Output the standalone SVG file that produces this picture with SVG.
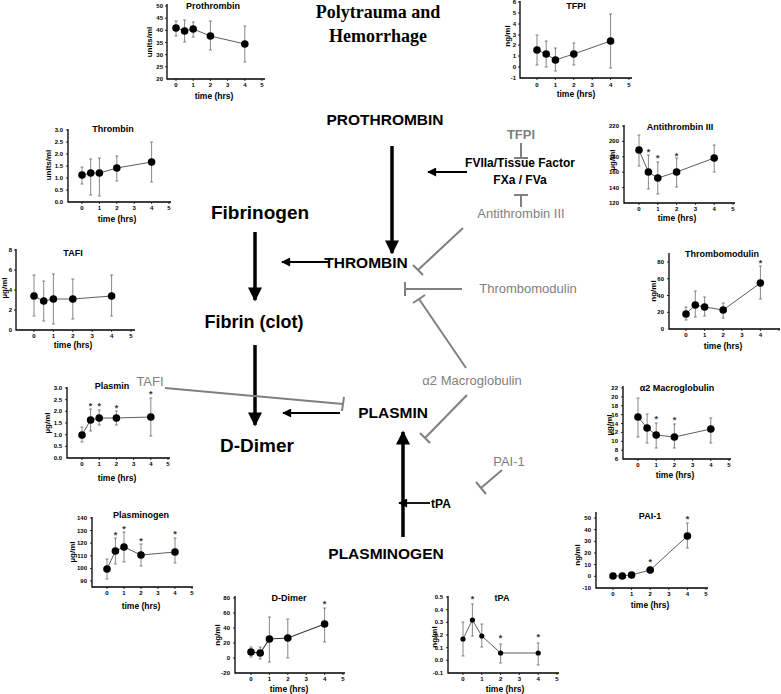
<svg xmlns="http://www.w3.org/2000/svg" width="781" height="694" viewBox="0 0 781 694">
<style>
text{font-family:"Liberation Sans",Arial,sans-serif;}
.ax{fill:none;stroke:#000;stroke-width:1.3}
.tk{fill:none;stroke:#000;stroke-width:0.8}
.tl{font-size:6px;font-weight:bold;fill:#000}
.tle{font-size:6px;font-weight:bold;fill:#000;text-anchor:end}
.tt{font-size:9px;font-weight:bold;text-anchor:middle}
.xl{font-size:8.5px;font-weight:bold;text-anchor:middle}
.yl{font-size:8px;font-weight:bold;text-anchor:middle}
.ln{fill:none;stroke:#333;stroke-width:0.8}
.eb{fill:none;stroke:#555;stroke-width:0.7}
.st{font-size:9px;font-weight:bold;text-anchor:middle;fill:#333}
.big{font-weight:bold;text-anchor:middle;fill:#000}
.gr{font-size:13px;text-anchor:middle;fill:#808080}
.thin{fill:none;stroke:#000;stroke-width:1.8}
.thick{fill:none;stroke:#000;stroke-width:3.5}
.inh{fill:none;stroke:#808080;stroke-width:2}
circle{fill:#000}
</style>
<defs>
<marker id="ah" viewBox="0 0 10 10" refX="9" refY="5" markerWidth="10" markerHeight="9" markerUnits="userSpaceOnUse" orient="auto"><path d="M0,0L10,5L0,10z" fill="#000"/></marker>
<marker id="ahb" viewBox="0 0 10 10" refX="9" refY="5" markerWidth="15" markerHeight="14" markerUnits="userSpaceOnUse" orient="auto"><path d="M0,0L10,5L0,10z" fill="#000"/></marker>
</defs>

<g id="title">
<text x="378" y="18" class="big" style="font-family:'Liberation Serif',serif;font-size:18px">Polytrauma and</text>
<text x="378" y="42" class="big" style="font-family:'Liberation Serif',serif;font-size:18px">Hemorrhage</text>
</g>

<g id="connectors">
<line class="thick" x1="392" y1="146" x2="392" y2="253" marker-end="url(#ahb)"/>
<line class="thick" x1="255" y1="232" x2="255" y2="300" marker-end="url(#ahb)"/>
<line class="thick" x1="255" y1="345" x2="255" y2="425" marker-end="url(#ahb)"/>
<line class="thick" x1="403" y1="537" x2="403" y2="432" marker-end="url(#ahb)"/>
<line class="thin" x1="467" y1="172" x2="428" y2="172" marker-end="url(#ah)"/>
<line class="thin" x1="330" y1="262" x2="282" y2="262" marker-end="url(#ah)"/>
<line class="thin" x1="340" y1="413" x2="283" y2="413" marker-end="url(#ah)"/>
<line class="thin" x1="430" y1="503" x2="399" y2="503" marker-end="url(#ah)"/>
<path class="inh" d="M521,143V158M514,158H528"/>
<path class="inh" d="M521,207V195M514,195H528"/>
<path class="inh" d="M463,228L418,270M413,265L423,275"/>
<path class="inh" d="M462,289H405M405,282V296"/>
<path class="inh" d="M466,368L419,299M413,303L425,295"/>
<path class="inh" d="M467,395L425,438M420,433L430,443"/>
<path class="inh" d="M165,388L343,404M344,397L342,411"/>
<path class="inh" d="M502,470L481,488M476,482L486,494"/>
</g>

<g id="n-prothrombin"><text x="385" y="125" class="big" font-size="15.5">PROTHROMBIN</text></g>
<g id="n-tfpi"><text x="521" y="139" class="gr" font-weight="bold" font-size="12">TFPI</text></g>
<g id="n-fviia"><text x="520" y="167" class="big" font-size="12">FVIIa/Tissue Factor</text><text x="520" y="184" class="big" font-size="12">FXa / FVa</text></g>
<g id="n-at3"><text x="521" y="218" class="gr">Antithrombin III</text></g>
<g id="n-fibrinogen"><text x="260" y="219" class="big" font-size="19">Fibrinogen</text></g>
<g id="n-thrombin"><text x="366" y="268" class="big" font-size="15.5">THROMBIN</text></g>
<g id="n-thrombomodulin"><text x="528" y="293" class="gr">Thrombomodulin</text></g>
<g id="n-fibrin"><text x="254" y="328" class="big" font-size="18">Fibrin (clot)</text></g>
<g id="n-a2m"><text x="472" y="385" class="gr">α2 Macroglobulin</text></g>
<g id="n-tafi"><text x="150" y="386" class="gr">TAFI</text></g>
<g id="n-plasmin"><text x="393" y="418" class="big" font-size="15.5">PLASMIN</text></g>
<g id="n-ddimer"><text x="257" y="452" class="big" font-size="19">D-Dimer</text></g>
<g id="n-pai1"><text x="509" y="466" class="gr">PAI-1</text></g>
<g id="n-tpa"><text x="441" y="508" class="big" font-size="12">tPA</text></g>
<g id="n-plasminogen"><text x="386" y="559" class="big" font-size="15.5">PLASMINOGEN</text></g>

<!-- Chart: Prothrombin -->
<g id="c-prothrombin">
<path class="ax" d="M167,4V79H265"/>
<path class="tk" d="M165,6H167M165,18.2H167M165,30.3H167M165,42.5H167M165,54.7H167M165,66.8H167M176,79v2M193.2,79v2M210.4,79v2M227.6,79v2M244.8,79v2M262,79v2"/>
<g class="tle"><text x="163" y="8">50</text><text x="163" y="20.2">45</text><text x="163" y="32.3">40</text><text x="163" y="44.5">35</text><text x="163" y="56.7">30</text><text x="163" y="68.8">25</text><text x="163" y="81">20</text></g>
<g class="tl" text-anchor="middle"><text x="176" y="87">0</text><text x="193.2" y="87">1</text><text x="210.4" y="87">2</text><text x="227.6" y="87">3</text><text x="244.8" y="87">4</text><text x="262" y="87">5</text></g>
<text x="213" y="9" class="tt">Prothrombin</text>
<text x="214" y="99" class="xl">time (hrs)</text>
<text class="yl" transform="translate(152,42) rotate(-90)">units/ml</text>
<path class="eb" d="M176,21V36M174.5,21h3M174.5,36h3M184.6,20V42M183.1,20h3M183.1,42h3M193.2,22V37M191.7,22h3M191.7,37h3M210.4,21V50M208.9,21h3M208.9,50h3M244.8,26V62M243.3,26h3M243.3,62h3"/>
<polyline class="ln" points="176,28 184.6,31 193.2,29 210.4,36 244.8,44"/>
<g><circle cx="176" cy="28" r="3.8"/><circle cx="184.6" cy="31" r="3.8"/><circle cx="193.2" cy="29" r="3.8"/><circle cx="210.4" cy="36" r="3.8"/><circle cx="244.8" cy="44" r="3.8"/></g>
</g>

<!-- Chart: TFPI -->
<g id="c-tfpi">
<path class="ax" d="M520,1V78H632"/>
<path class="tk" d="M518,2H520M518,13H520M518,24H520M518,35H520M518,45H520M518,56H520M518,67H520M537,78v2M555.4,78v2M573.8,78v2M592.2,78v2M610.6,78v2M629,78v2"/>
<g class="tle"><text x="516" y="4">6</text><text x="516" y="15">5</text><text x="516" y="26">4</text><text x="516" y="37">3</text><text x="516" y="47">2</text><text x="516" y="58">1</text><text x="516" y="69">0</text><text x="516" y="80">-1</text></g>
<g class="tl" text-anchor="middle"><text x="537" y="87">0</text><text x="555.4" y="87">1</text><text x="573.8" y="87">2</text><text x="592.2" y="87">3</text><text x="610.6" y="87">4</text><text x="629" y="87">5</text></g>
<text x="576" y="9" class="tt">TFPI</text>
<text x="576" y="97" class="xl">time (hrs)</text>
<text class="yl" transform="translate(510,36) rotate(-90)">ng/ml</text>
<path class="eb" d="M537,35V65M535.5,35h3M535.5,65h3M546.2,41V67M544.7,41h3M544.7,67h3M555.4,48V71M553.9,48h3M553.9,71h3M573.8,43V65M572.3,43h3M572.3,65h3M610.6,14V68M609.1,14h3M609.1,68h3"/>
<polyline class="ln" points="537,50 546.2,54 555.4,60 573.8,54 610.6,41"/>
<g><circle cx="537" cy="50" r="3.8"/><circle cx="546.2" cy="54" r="3.8"/><circle cx="555.4" cy="60" r="3.8"/><circle cx="573.8" cy="54" r="3.8"/><circle cx="610.6" cy="41" r="3.8"/></g>
</g>

<!-- Chart: Thrombin -->
<g id="c-thrombin">
<path class="ax" d="M68,129V202H171"/>
<path class="tk" d="M66,130H68M66,142H68M66,154H68M66,166H68M66,178H68M66,190H68M82,202v2M99.4,202v2M116.8,202v2M134.2,202v2M151.6,202v2M169,202v2"/>
<g class="tle"><text x="63" y="132">3.0</text><text x="63" y="144">2.5</text><text x="63" y="156">2.0</text><text x="63" y="168">1.5</text><text x="63" y="180">1.0</text><text x="63" y="192">0.5</text><text x="63" y="204">0.0</text></g>
<g class="tl" text-anchor="middle"><text x="82" y="210">0</text><text x="99.4" y="210">1</text><text x="116.8" y="210">2</text><text x="134.2" y="210">3</text><text x="151.6" y="210">4</text><text x="169" y="210">5</text></g>
<text x="113" y="132" class="tt">Thrombin</text>
<text x="117" y="222" class="xl">time (hrs)</text>
<text class="yl" transform="translate(51,165) rotate(-90)">units/ml</text>
<path class="eb" d="M82,167V184M80.5,167h3M80.5,184h3M90.7,159V195M89.2,159h3M89.2,195h3M99.4,158V196M97.9,158h3M97.9,196h3M116.8,156V181M115.3,156h3M115.3,181h3M151.6,142V182M150.1,142h3M150.1,182h3"/>
<polyline class="ln" points="82,175 90.7,173 99.4,173 116.8,168 151.6,162"/>
<g><circle cx="82" cy="175" r="3.8"/><circle cx="90.7" cy="173" r="3.8"/><circle cx="99.4" cy="173" r="3.8"/><circle cx="116.8" cy="168" r="3.8"/><circle cx="151.6" cy="162" r="3.8"/></g>
</g>

<!-- Chart: Antithrombin III -->
<g id="c-at3">
<path class="ax" d="M624,125V203H735"/>
<path class="tk" d="M622,126H624M622,141.4H624M622,156.8H624M622,172.2H624M622,187.6H624M639,203v2M657.8,203v2M676.6,203v2M695.4,203v2M714.2,203v2M733,203v2"/>
<g class="tle"><text x="619" y="128">220</text><text x="619" y="143.4">200</text><text x="619" y="158.8">180</text><text x="619" y="174.2">160</text><text x="619" y="189.6">140</text><text x="619" y="205">120</text></g>
<g class="tl" text-anchor="middle"><text x="639" y="211">0</text><text x="657.8" y="211">1</text><text x="676.6" y="211">2</text><text x="695.4" y="211">3</text><text x="714.2" y="211">4</text><text x="733" y="211">5</text></g>
<text x="680" y="130" class="tt">Antithrombin III</text>
<text x="677" y="221" class="xl">time (hrs)</text>
<text class="yl" transform="translate(615,160) rotate(-90)">µg/ml</text>
<path class="eb" d="M639,135V166M637.5,135h3M637.5,166h3M648.4,155V189M646.9,155h3M646.9,189h3M657.8,162V194M656.3,162h3M656.3,194h3M676.6,158V187M675.1,158h3M675.1,187h3M714.2,145V172M712.7,145h3M712.7,172h3"/>
<polyline class="ln" points="639,150 648.4,172 657.8,178 676.6,172 714.2,158"/>
<g><circle cx="639" cy="150" r="3.8"/><circle cx="648.4" cy="172" r="3.8"/><circle cx="657.8" cy="178" r="3.8"/><circle cx="676.6" cy="172" r="3.8"/><circle cx="714.2" cy="158" r="3.8"/></g>
<g class="st"><text x="648.4" y="155">*</text><text x="657.8" y="161">*</text><text x="676.6" y="159">*</text></g>
</g>

<!-- Chart: TAFI -->
<g id="c-tafi">
<path class="ax" d="M16,249V330H135"/>
<path class="tk" d="M14,250H16M14,270H16M14,290H16M14,310H16M34,330v2M53.4,330v2M72.8,330v2M92.2,330v2M111.6,330v2M131,330v2"/>
<g class="tle"><text x="12" y="252">8</text><text x="12" y="272">6</text><text x="12" y="292">4</text><text x="12" y="312">2</text><text x="12" y="332">0</text></g>
<g class="tl" text-anchor="middle"><text x="34" y="338">0</text><text x="53.4" y="338">1</text><text x="72.8" y="338">2</text><text x="92.2" y="338">3</text><text x="111.6" y="338">4</text><text x="131" y="338">5</text></g>
<text x="73" y="256" class="tt">TAFI</text>
<text x="73" y="348" class="xl">time (hrs)</text>
<text class="yl" transform="translate(7,288) rotate(-90)">µg/ml</text>
<path class="eb" d="M34,275V316M32.5,275h3M32.5,316h3M43.7,281V321M42.2,281h3M42.2,321h3M53.4,274V324M51.9,274h3M51.9,324h3M72.8,279V319M71.3,279h3M71.3,319h3M111.6,275V316M110.1,275h3M110.1,316h3"/>
<polyline class="ln" points="34,296 43.7,301 53.4,299 72.8,299 111.6,296"/>
<g><circle cx="34" cy="296" r="3.8"/><circle cx="43.7" cy="301" r="3.8"/><circle cx="53.4" cy="299" r="3.8"/><circle cx="72.8" cy="299" r="3.8"/><circle cx="111.6" cy="296" r="3.8"/></g>
</g>

<!-- Chart: Thrombomodulin -->
<g id="c-thrombomodulin">
<path class="ax" d="M669,253V329H780"/>
<path class="tk" d="M667,262H669M667,278.8H669M667,295.5H669M667,312.3H669M686,329v2M704.6,329v2M723.2,329v2M741.8,329v2M760.4,329v2M779,329v2"/>
<g class="tle"><text x="664" y="264">80</text><text x="664" y="280.8">60</text><text x="664" y="297.5">40</text><text x="664" y="314.3">20</text><text x="664" y="331">0</text></g>
<g class="tl" text-anchor="middle"><text x="686" y="337">0</text><text x="704.6" y="337">1</text><text x="723.2" y="337">2</text><text x="741.8" y="337">3</text><text x="760.4" y="337">4</text></g>
<text x="722" y="257" class="tt">Thrombomodulin</text>
<text x="723" y="349" class="xl">time (hrs)</text>
<text class="yl" transform="translate(656,291) rotate(-90)">ng/ml</text>
<path class="eb" d="M686,307V320M684.5,307h3M684.5,320h3M695.3,291V317M693.8,291h3M693.8,317h3M704.6,297V316M703.1,297h3M703.1,316h3M723.2,303V318M721.7,303h3M721.7,318h3M760.4,266V299M758.9,266h3M758.9,299h3"/>
<polyline class="ln" points="686,314 695.3,305 704.6,307 723.2,310 760.4,283"/>
<g><circle cx="686" cy="314" r="3.8"/><circle cx="695.3" cy="305" r="3.8"/><circle cx="704.6" cy="307" r="3.8"/><circle cx="723.2" cy="310" r="3.8"/><circle cx="760.4" cy="283" r="3.8"/></g>
<g class="st"><text x="760.4" y="266">*</text></g>
</g>

<!-- Chart: Plasmin -->
<g id="c-plasmin">
<path class="ax" d="M67,387V458H170"/>
<path class="tk" d="M65,388H67M65,399.7H67M65,411.3H67M65,423H67M65,434.7H67M65,446.3H67M82,458v2M99.2,458v2M116.4,458v2M133.6,458v2M150.8,458v2M168,458v2"/>
<g class="tle"><text x="62" y="390">3.0</text><text x="62" y="401.7">2.5</text><text x="62" y="413.3">2.0</text><text x="62" y="425">1.5</text><text x="62" y="436.7">1.0</text><text x="62" y="448.3">0.5</text><text x="62" y="460">0.0</text></g>
<g class="tl" text-anchor="middle"><text x="82" y="466">0</text><text x="99.2" y="466">1</text><text x="116.4" y="466">2</text><text x="133.6" y="466">3</text><text x="150.8" y="466">4</text><text x="168" y="466">5</text></g>
<text x="112" y="389" class="tt">Plasmin</text>
<text x="117" y="481" class="xl">time (hrs)</text>
<text class="yl" transform="translate(50,423) rotate(-90)">µg/ml</text>
<path class="eb" d="M82,427V442M80.5,427h3M80.5,442h3M90.6,409V431M89.1,409h3M89.1,431h3M99.2,410V425M97.7,410h3M97.7,425h3M116.4,411V425M114.9,411h3M114.9,425h3M150.8,398V436M149.3,398h3M149.3,436h3"/>
<polyline class="ln" points="82,435 90.6,420 99.2,418 116.4,418 150.8,417"/>
<g><circle cx="82" cy="435" r="3.8"/><circle cx="90.6" cy="420" r="3.8"/><circle cx="99.2" cy="418" r="3.8"/><circle cx="116.4" cy="418" r="3.8"/><circle cx="150.8" cy="417" r="3.8"/></g>
<g class="st"><text x="90.6" y="409">*</text><text x="99.2" y="409">*</text><text x="116.4" y="411">*</text><text x="150.8" y="397">*</text></g>
</g>

<!-- Chart: a2 Macroglobulin -->
<g id="c-a2m">
<path class="ax" d="M623,386V459H731"/>
<path class="tk" d="M621,388H623M621,396.9H623M621,405.8H623M621,414.6H623M621,423.5H623M621,432.4H623M621,441.3H623M621,450.1H623M638,459v2M656.2,459v2M674.4,459v2M692.6,459v2M710.8,459v2M729,459v2"/>
<g class="tle"><text x="618" y="390">22</text><text x="618" y="398.9">20</text><text x="618" y="407.8">18</text><text x="618" y="416.6">16</text><text x="618" y="425.5">14</text><text x="618" y="434.4">12</text><text x="618" y="443.3">10</text><text x="618" y="452.1">8</text><text x="618" y="461">6</text></g>
<g class="tl" text-anchor="middle"><text x="638" y="467">0</text><text x="656.2" y="467">1</text><text x="674.4" y="467">2</text><text x="692.6" y="467">3</text><text x="710.8" y="467">4</text><text x="729" y="467">5</text></g>
<text x="677" y="391" class="tt">α2 Macroglobulin</text>
<text x="675" y="478" class="xl">time (hrs)</text>
<text class="yl" transform="translate(612,425) rotate(-90)">µg/ml</text>
<path class="eb" d="M638,398V437M636.5,398h3M636.5,437h3M647.1,414V443M645.6,414h3M645.6,443h3M656.2,423V448M654.7,423h3M654.7,448h3M674.4,424V448M672.9,424h3M672.9,448h3M710.8,418V443M709.3,418h3M709.3,443h3"/>
<polyline class="ln" points="638,417 647.1,428 656.2,435 674.4,437 710.8,429"/>
<g><circle cx="638" cy="417" r="3.8"/><circle cx="647.1" cy="428" r="3.8"/><circle cx="656.2" cy="435" r="3.8"/><circle cx="674.4" cy="437" r="3.8"/><circle cx="710.8" cy="429" r="3.8"/></g>
<g class="st"><text x="656.2" y="422">*</text><text x="674.4" y="423">*</text></g>
</g>

<!-- Chart: Plasminogen -->
<g id="c-plasminogen">
<path class="ax" d="M92,517V587H193"/>
<path class="tk" d="M90,518H92M90,530.6H92M90,543.2H92M90,555.8H92M90,568.4H92M90,581H92M107,587v2M124,587v2M141,587v2M158,587v2M175,587v2M192,587v2"/>
<g class="tle"><text x="87" y="520">140</text><text x="87" y="532.6">130</text><text x="87" y="545.2">120</text><text x="87" y="557.8">110</text><text x="87" y="570.4">100</text><text x="87" y="583">90</text></g>
<g class="tl" text-anchor="middle"><text x="107" y="595">0</text><text x="124" y="595">1</text><text x="141" y="595">2</text><text x="158" y="595">3</text><text x="175" y="595">4</text><text x="192" y="595">5</text></g>
<text x="141" y="518" class="tt">Plasminogen</text>
<text x="141" y="609" class="xl">time (hrs)</text>
<text class="yl" transform="translate(75,552) rotate(-90)">µg/ml</text>
<path class="eb" d="M107,559V579M105.5,559h3M105.5,579h3M115.4,538V564M113.9,538h3M113.9,564h3M124,532V562M122.5,532h3M122.5,562h3M141,544V566M139.5,544h3M139.5,566h3M175,538V563M173.5,538h3M173.5,563h3"/>
<polyline class="ln" points="107,569 115.4,551 124,547 141,555 175,552"/>
<g><circle cx="107" cy="569" r="3.8"/><circle cx="115.4" cy="551" r="3.8"/><circle cx="124" cy="547" r="3.8"/><circle cx="141" cy="555" r="3.8"/><circle cx="175" cy="552" r="3.8"/></g>
<g class="st"><text x="115.4" y="538">*</text><text x="124" y="532">*</text><text x="141" y="544">*</text><text x="175" y="537">*</text></g>
</g>

<!-- Chart: PAI-1 -->
<g id="c-pai1">
<path class="ax" d="M596,512V588H708"/>
<path class="tk" d="M594,518H596M594,529.7H596M594,541.3H596M594,553H596M594,564.7H596M594,576.3H596M613,588v2M631.6,588v2M650.2,588v2M668.8,588v2M687.4,588v2M706,588v2"/>
<g class="tle"><text x="591" y="520">50</text><text x="591" y="531.7">40</text><text x="591" y="543.3">30</text><text x="591" y="555">20</text><text x="591" y="566.7">10</text><text x="591" y="578.3">0</text><text x="591" y="590">-10</text></g>
<g class="tl" text-anchor="middle"><text x="613" y="596">0</text><text x="631.6" y="596">1</text><text x="650.2" y="596">2</text><text x="668.8" y="596">3</text><text x="687.4" y="596">4</text><text x="706" y="596">5</text></g>
<text x="650" y="519" class="tt">PAI-1</text>
<text x="650" y="608" class="xl">time (hrs)</text>
<text class="yl" transform="translate(580,555) rotate(-90)">ng/ml</text>
<path class="eb" d="M650.2,567V573M648.7,567h3M648.7,573h3M687.4,523V548M685.9,523h3M685.9,548h3"/>
<polyline class="ln" points="613,576 622.3,576 631.6,575 650.2,570 687.4,536"/>
<g><circle cx="613" cy="576" r="3.8"/><circle cx="622.3" cy="576" r="3.8"/><circle cx="631.6" cy="575" r="3.8"/><circle cx="650.2" cy="570" r="3.8"/><circle cx="687.4" cy="536" r="3.8"/></g>
<g class="st"><text x="650.2" y="565">*</text><text x="687.4" y="522">*</text></g>
</g>

<!-- Chart: D-Dimer -->
<g id="c-ddimer">
<path class="ax" d="M235,596V673H345"/>
<path class="tk" d="M233,598H235M233,613H235M233,628H235M233,643H235M233,658H235M251,673v2M269.4,673v2M287.8,673v2M306.2,673v2M324.6,673v2M343,673v2"/>
<g class="tle"><text x="230" y="600">80</text><text x="230" y="615">60</text><text x="230" y="630">40</text><text x="230" y="645">20</text><text x="230" y="660">0</text><text x="230" y="675">-20</text></g>
<g class="tl" text-anchor="middle"><text x="251" y="681">0</text><text x="269.4" y="681">1</text><text x="287.8" y="681">2</text><text x="306.2" y="681">3</text><text x="324.6" y="681">4</text><text x="343" y="681">5</text></g>
<text x="289" y="601" class="tt">D-Dimer</text>
<text x="289" y="692" class="xl">time (hrs)</text>
<text class="yl" transform="translate(220,635) rotate(-90)">ng/ml</text>
<path class="eb" d="M251,647V657M249.5,647h3M249.5,657h3M260.2,647V659M258.7,647h3M258.7,659h3M269.4,617V662M267.9,617h3M267.9,662h3M287.8,619V658M286.3,619h3M286.3,658h3M324.6,608V642M323.1,608h3M323.1,642h3"/>
<polyline class="ln" points="251,652 260.2,653 269.4,639 287.8,638 324.6,624" style="stroke-width:1.1"/>
<g><circle cx="251" cy="652" r="3.8"/><circle cx="260.2" cy="653" r="3.8"/><circle cx="269.4" cy="639" r="3.8"/><circle cx="287.8" cy="638" r="3.8"/><circle cx="324.6" cy="624" r="3.8"/></g>
<g class="st"><text x="324.6" y="607">*</text></g>
</g>

<!-- Chart: tPA -->
<g id="c-tpa">
<path class="ax" d="M448,596V673H559"/>
<path class="tk" d="M446,597H448M446,609.7H448M446,622.3H448M446,635H448M446,647.7H448M446,660.3H448M463,673v2M481.8,673v2M500.6,673v2M519.4,673v2M538.2,673v2M557,673v2"/>
<g class="tle"><text x="443" y="599">0.5</text><text x="443" y="611.7">0.4</text><text x="443" y="624.3">0.3</text><text x="443" y="637">0.2</text><text x="443" y="649.7">0.1</text><text x="443" y="662.3">0.0</text><text x="443" y="675">-0.1</text></g>
<g class="tl" text-anchor="middle"><text x="463" y="681">0</text><text x="481.8" y="681">1</text><text x="500.6" y="681">2</text><text x="519.4" y="681">3</text><text x="538.2" y="681">4</text><text x="557" y="681">5</text></g>
<text x="502" y="601" class="tt">tPA</text>
<text x="505" y="692" class="xl">time (hrs)</text>
<text class="yl" transform="translate(437,637) rotate(-90)">ng/ml</text>
<path class="eb" d="M463,622V656M461.5,622h3M461.5,656h3M472.4,604V636M470.9,604h3M470.9,636h3M481.8,624V647M480.3,624h3M480.3,647h3M500.6,644V663M499.1,644h3M499.1,663h3M538.2,643V665M536.7,643h3M536.7,665h3"/>
<polyline class="ln" points="463,639 472.4,620 481.8,636 500.6,653 538.2,653"/>
<g><circle cx="463" cy="639" r="2.6"/><circle cx="472.4" cy="620" r="2.6"/><circle cx="481.8" cy="636" r="2.6"/><circle cx="500.6" cy="653" r="2.6"/><circle cx="538.2" cy="653" r="2.6"/></g>
<g class="st"><text x="472.4" y="602">*</text><text x="500.6" y="641">*</text><text x="538.2" y="640">*</text></g>
</g>
</svg>
